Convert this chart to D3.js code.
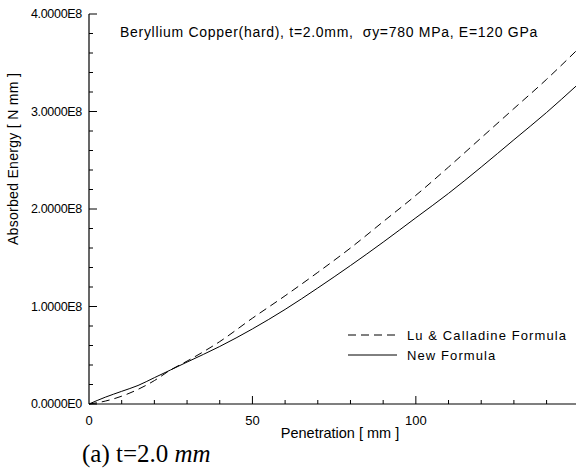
<!DOCTYPE html>
<html>
<head>
<meta charset="utf-8">
<script src="https://cdn.jsdelivr.net/npm/d3@7"></script>
<style>
body { margin: 0; background: #fff; }
svg { display: block; }
text { fill: #000; }
</style>
</head>
<body>
<svg id="chart"></svg>
<script>
// Beryllium Copper (hard), t = 2.0 mm : energie absorbee vs penetration

// donnees
const penetration = [0, 5, 10, 15, 20, 25, 30, 40, 50, 60, 70, 80, 90, 100, 110, 120, 130, 140, 149];
const luCalladine = [0, 0.03, 0.08, 0.15, 0.24, 0.35, 0.44, 0.64, 0.88, 1.11, 1.35, 1.60, 1.87, 2.14, 2.43, 2.73, 3.03, 3.33, 3.62];
const newFormula  = [0, 0.07, 0.13, 0.19, 0.27, 0.35, 0.43, 0.59, 0.77, 0.97, 1.19, 1.42, 1.66, 1.91, 2.16, 2.43, 2.71, 2.99, 3.26];

const xTicks = [0, 50, 100];
const yTicks = [0, 1, 2, 3, 4];
const yTickLabels = ["0.0000E0", "1.0000E8", "2.0000E8", "3.0000E8", "4.0000E8"];
const legendLabels = ["Lu & Calladine Formula", "New Formula"];

const width = 576, height = 473;
const margin = {top: 14, right: 0, bottom: 69, left: 89};

const svg = d3.select("#chart")
  .attr("width", width)
  .attr("height", height);

const x = d3.scaleLinear().domain([0, 149]).range([margin.left, width - margin.right]);
const y = d3.scaleLinear().domain([0, 4]).range([height - margin.bottom, margin.top]);

const font = "'Liberation Sans', Arial, sans-serif";

// axe x
const xAxis = svg.append("g").attr("transform", `translate(0,${y(0)})`);
xAxis.append("line")
  .attr("x1", x(0)).attr("x2", width)
  .attr("stroke", "#000").attr("stroke-width", 1.2);
xAxis.selectAll("line.minor")
  .data(d3.range(10, 150, 10))
  .enter().append("line")
  .attr("class", "minor")
  .attr("x1", d => x(d)).attr("x2", d => x(d))
  .attr("y1", 0).attr("y2", d => d % 50 === 0 ? -8 : -4)
  .attr("stroke", "#000");
xAxis.selectAll("text")
  .data(xTicks)
  .enter().append("text")
  .attr("x", d => x(d))
  .attr("y", 21)
  .attr("text-anchor", "middle")
  .style("font", `13px ${font}`)
  .text(d => d);

// axe y
const yAxis = svg.append("g").attr("transform", `translate(${x(0)},0)`);
yAxis.append("line")
  .attr("y1", y(0)).attr("y2", y(4))
  .attr("stroke", "#000").attr("stroke-width", 1.2);
yAxis.selectAll("line.minor")
  .data(d3.range(0, 4.01, 0.2))
  .enter().append("line")
  .attr("class", "minor")
  .attr("y1", d => y(d)).attr("y2", d => y(d))
  .attr("x1", 0).attr("x2", d => Math.abs(d - Math.round(d)) < 1e-6 ? 8 : 4)
  .attr("stroke", "#000");
yAxis.selectAll("text")
  .data(yTicks)
  .enter().append("text")
  .attr("x", -7)
  .attr("y", d => y(d) + 4)
  .attr("text-anchor", "end")
  .style("font", `12.5px ${font}`)
  .attr("letter-spacing", "-0.3")
  .text((d, i) => yTickLabels[i]);

// courbes
const line = d3.line()
  .x((d, i) => x(penetration[i]))
  .y(d => y(d))
  .curve(d3.curveMonotoneX);

svg.append("path")
  .datum(luCalladine)
  .attr("d", line)
  .attr("fill", "none")
  .attr("stroke", "#000")
  .attr("stroke-width", 1)
  .attr("stroke-dasharray", "8,5");

svg.append("path")
  .datum(newFormula)
  .attr("d", line)
  .attr("fill", "none")
  .attr("stroke", "#000")
  .attr("stroke-width", 1);

// legende
const legend = svg.append("g").attr("transform", "translate(348,335)");
legendLabels.forEach((lab, i) => {
  legend.append("line")
    .attr("x1", 0).attr("x2", 49)
    .attr("y1", i * 20).attr("y2", i * 20)
    .attr("stroke", "#000")
    .attr("stroke-dasharray", i === 0 ? "8,5" : null);
  legend.append("text")
    .attr("x", 59).attr("y", i * 20 + 5)
    .style("font", `13px ${font}`)
    .attr("letter-spacing", "1.1")
    .text(lab);
});

// titres
svg.append("text")
  .attr("x", 120).attr("y", 37)
  .style("font", `14px ${font}`)
  .attr("letter-spacing", "0.7")
  .attr("xml:space", "preserve")
  .text("Beryllium Copper(hard), t=2.0mm,  \u03c3y=780 MPa, E=120 GPa");

svg.append("text")
  .attr("transform", `translate(18,${159}) rotate(-90)`)
  .attr("text-anchor", "middle")
  .style("font", `14px ${font}`)
  .attr("letter-spacing", "0.3")
  .text("Absorbed Energy [ N mm ]");

svg.append("text")
  .attr("x", 340).attr("y", 438)
  .attr("text-anchor", "middle")
  .style("font", `14.5px ${font}`)
  .text("Penetration [ mm ]");

const cap = svg.append("text")
  .attr("x", 82).attr("y", 462)
  .style("font", `25px 'Liberation Serif', 'Times New Roman', serif`);
cap.append("tspan").text("(a) t=2.0 ");
cap.append("tspan").style("font-style", "italic").text("mm");
</script>
</body>
</html>
